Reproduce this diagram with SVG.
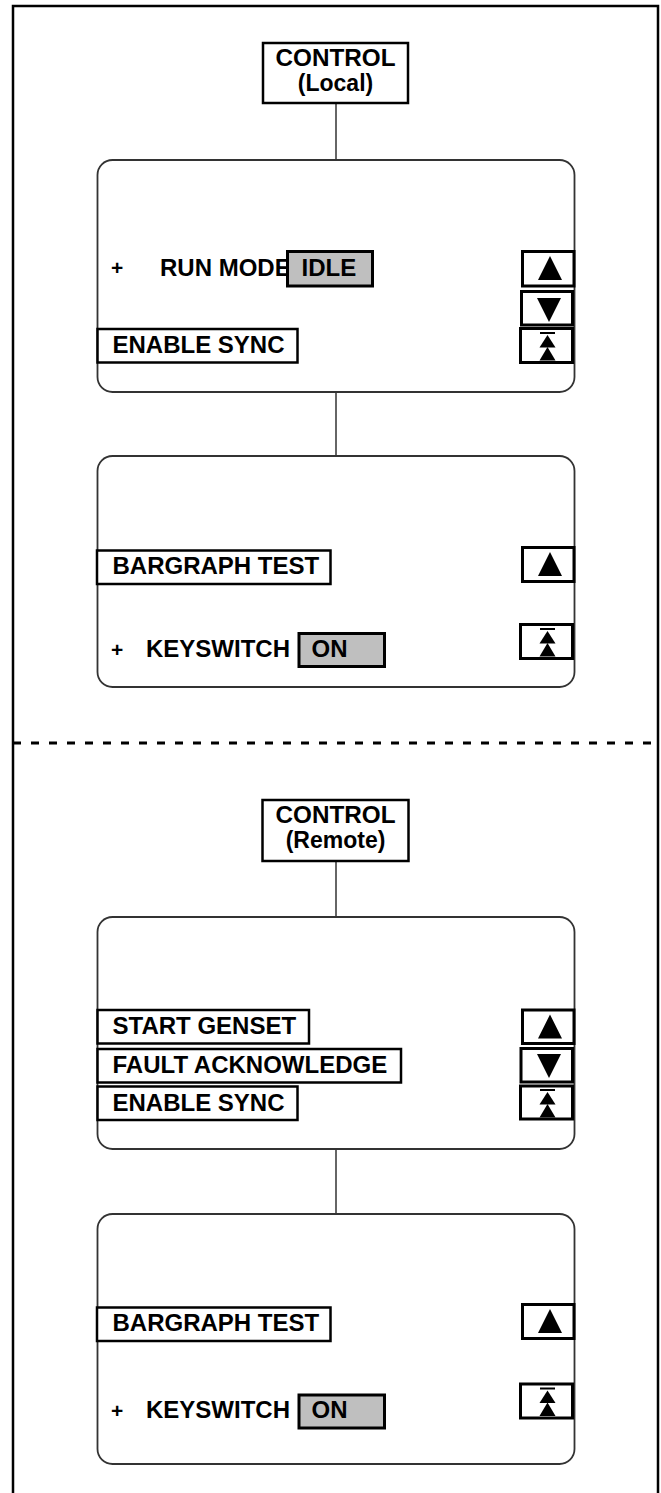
<svg xmlns="http://www.w3.org/2000/svg" width="661" height="1493" viewBox="0 0 661 1493">
<style>
text{font-family:"Liberation Sans",Arial,sans-serif;font-weight:bold;font-size:24px;fill:#000}
.plus{font-size:21px}
.big{font-size:23px}
.panel{fill:#fff;stroke:#333;stroke-width:1.8}
.lbl{fill:#fff;stroke:#000;stroke-width:2.5}
.val{fill:#bfbfbf;stroke:#000;stroke-width:3}
.btn{fill:#fff;stroke:#000;stroke-width:3}
.ctl{fill:#fff;stroke:#000;stroke-width:2.5}
.conn{stroke:#333;stroke-width:1.5;fill:none}
.tri{fill:#000}
</style>
<defs>
<g id="up"><polygon class="tri" points="0,-12 -12,12 12,12"/></g>
<g id="down"><polygon class="tri" points="0,12 -12,-12 12,-12"/></g>
<g id="top"><line x1="-7.5" y1="-14" x2="7.5" y2="-14" stroke="#000" stroke-width="2"/><polygon class="tri" points="0,-12 -8,0.5 8,0.5"/><polygon class="tri" points="0,0 -8,13.5 8,13.5"/></g>
</defs>
<path d="M13,1500 V6 H658 V1500" fill="none" stroke="#000" stroke-width="2.5"/>
<line x1="13" y1="743" x2="658" y2="743" stroke="#000" stroke-width="3" stroke-dasharray="8,10"/>
<g id="connectors">
<line class="conn" x1="336" y1="103" x2="336" y2="160"/>
<line class="conn" x1="336" y1="392" x2="336" y2="456"/>
<line class="conn" x1="336" y1="861" x2="336" y2="917"/>
<line class="conn" x1="336" y1="1149" x2="336" y2="1214"/>
</g>
<g id="control-local">
<rect class="ctl" x="263" y="43" width="145" height="60"/>
<text class="big" x="335.5" y="65.5" text-anchor="middle" textLength="120" lengthAdjust="spacingAndGlyphs">CONTROL</text>
<text class="big" x="335.5" y="91" text-anchor="middle">(Local)</text>
</g>
<g id="local-panel-1">
<rect class="panel" x="97.5" y="160" width="477" height="232" rx="15"/>
<text class="plus" x="111" y="275">+</text>
<text x="160" y="276">RUN MODE</text>
<rect class="val" x="287.5" y="251.5" width="85" height="34.5"/>
<text x="301.5" y="276">IDLE</text>
<rect class="lbl" x="97.5" y="329" width="200" height="33.5"/>
<text x="112.5" y="353">ENABLE SYNC</text>
<rect class="btn" x="522.5" y="251.5" width="51.5" height="34.5"/>
<use href="#up" x="550" y="268"/>
<rect class="btn" x="521.5" y="291.5" width="51" height="33.5"/>
<use href="#down" x="549" y="310"/>
<rect class="btn" x="520.5" y="328.5" width="52" height="34"/>
<use href="#top" x="547.5" y="347"/>
</g>
<g id="local-panel-2">
<rect class="panel" x="97.5" y="456" width="477" height="231" rx="15"/>
<rect class="lbl" x="97" y="550.5" width="233.5" height="33.5"/>
<text x="112.5" y="574">BARGRAPH TEST</text>
<text class="plus" x="111" y="657">+</text>
<text x="146" y="657">KEYSWITCH</text>
<rect class="val" x="299" y="633.5" width="85.5" height="33"/>
<text x="311.5" y="657">ON</text>
<rect class="btn" x="522.5" y="547.5" width="51.5" height="34"/>
<use href="#up" x="550" y="564"/>
<rect class="btn" x="520.5" y="624.5" width="52" height="34"/>
<use href="#top" x="547.5" y="643"/>
</g>
<g id="control-remote">
<rect class="ctl" x="262.5" y="800" width="146" height="61"/>
<text class="big" x="335.5" y="822.5" text-anchor="middle" textLength="120" lengthAdjust="spacingAndGlyphs">CONTROL</text>
<text class="big" x="335.5" y="848" text-anchor="middle">(Remote)</text>
</g>
<g id="remote-panel-1">
<rect class="panel" x="97.5" y="917" width="477" height="232" rx="15"/>
<rect class="lbl" x="97.5" y="1010" width="211.5" height="33.5"/>
<text x="112.5" y="1034">START GENSET</text>
<rect class="lbl" x="97.5" y="1049" width="303.5" height="33.5"/>
<text x="112.5" y="1073">FAULT ACKNOWLEDGE</text>
<rect class="lbl" x="97.5" y="1086.5" width="200" height="33.5"/>
<text x="112.5" y="1110.5">ENABLE SYNC</text>
<rect class="btn" x="522.5" y="1010" width="51.5" height="33.5"/>
<use href="#up" x="550" y="1026.5"/>
<rect class="btn" x="521" y="1048.5" width="51.5" height="33.5"/>
<use href="#down" x="549" y="1066"/>
<rect class="btn" x="520.5" y="1086" width="52" height="33"/>
<use href="#top" x="547.5" y="1104"/>
</g>
<g id="remote-panel-2">
<rect class="panel" x="97.5" y="1214" width="477" height="250" rx="15"/>
<rect class="lbl" x="97" y="1307.5" width="233.5" height="33.5"/>
<text x="112.5" y="1331">BARGRAPH TEST</text>
<text class="plus" x="111" y="1418">+</text>
<text x="146" y="1418">KEYSWITCH</text>
<rect class="val" x="299" y="1395" width="85.5" height="33"/>
<text x="311.5" y="1418">ON</text>
<rect class="btn" x="522.5" y="1304.5" width="51.5" height="34"/>
<use href="#up" x="550" y="1321"/>
<rect class="btn" x="520.5" y="1384" width="52" height="34"/>
<use href="#top" x="547.5" y="1402.5"/>
</g>
</svg>
